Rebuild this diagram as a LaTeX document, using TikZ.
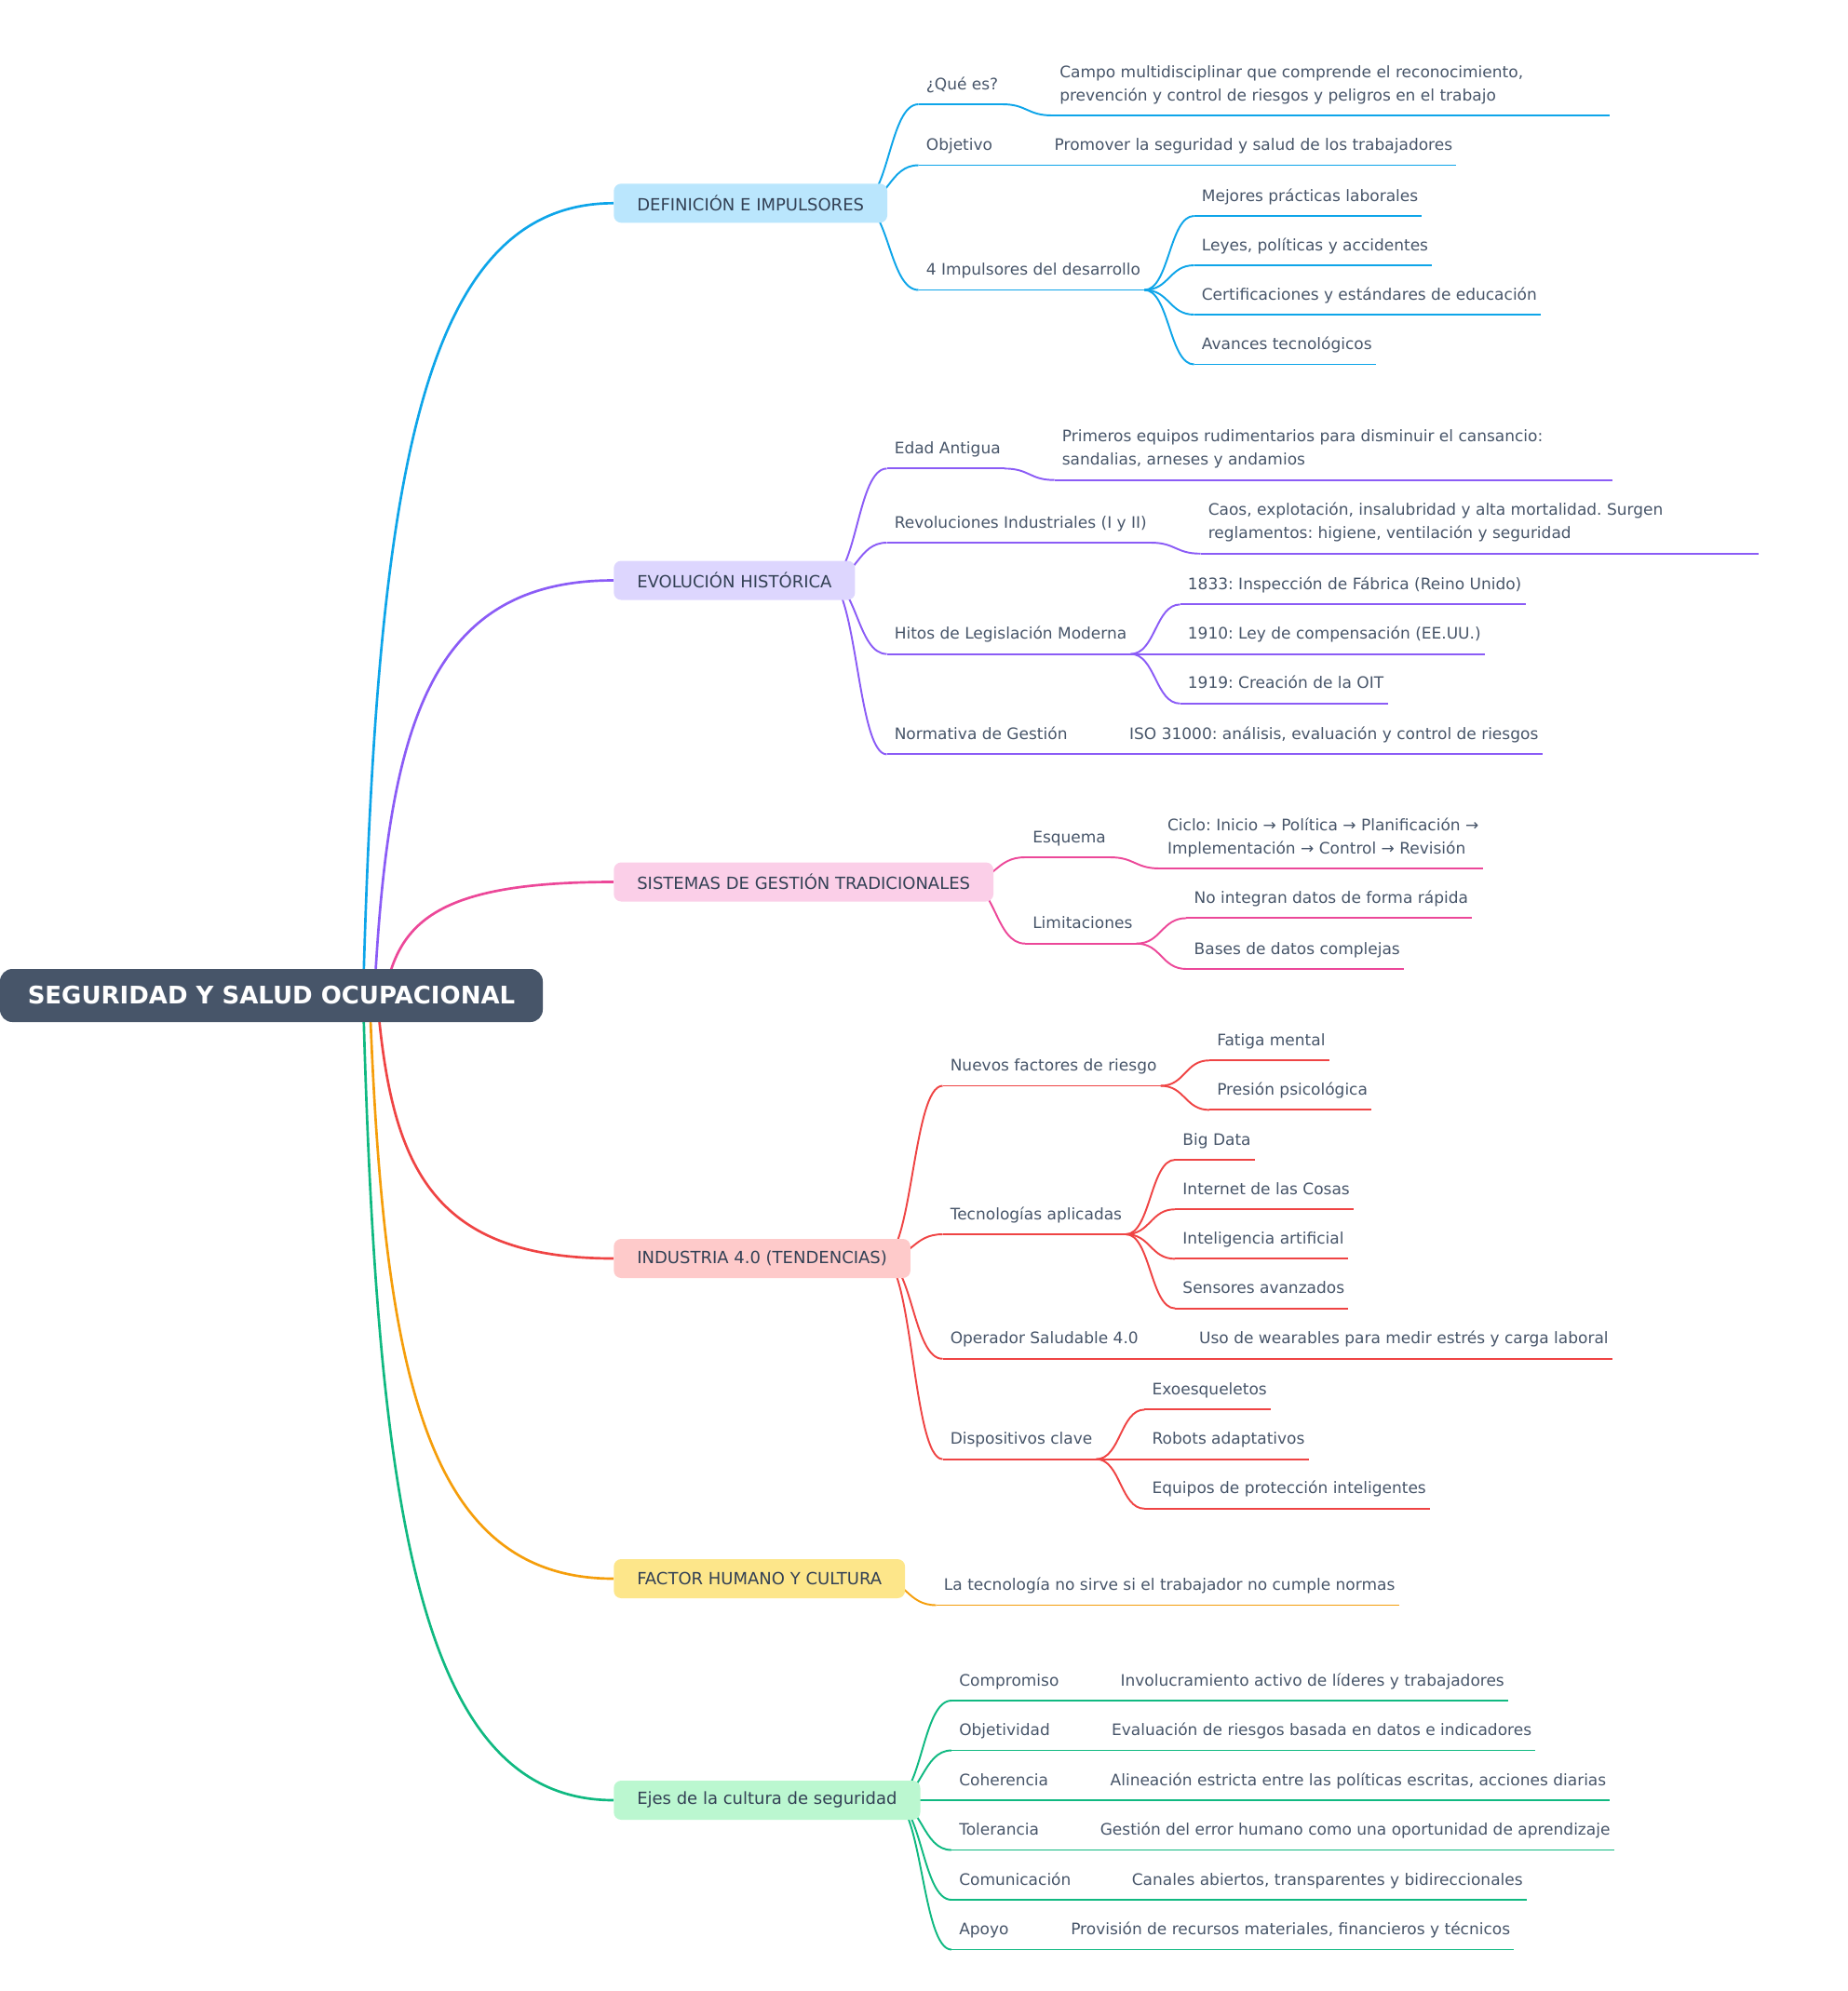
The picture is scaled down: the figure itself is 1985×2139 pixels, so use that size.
\documentclass[tikz,border=0pt]{standalone}
\usepackage{fontspec}
\setmainfont{DejaVu Sans}
\frenchspacing
\usetikzlibrary{calc}
\definecolor{rootc}{HTML}{475569}
\definecolor{txtc}{HTML}{475569}
\definecolor{boxtxt}{HTML}{334155}
\definecolor{c1}{HTML}{0EA5E9}\definecolor{f1}{HTML}{BAE6FD}
\definecolor{c2}{HTML}{8B5CF6}\definecolor{f2}{HTML}{DDD6FE}
\definecolor{c3}{HTML}{EC4899}\definecolor{f3}{HTML}{FBCFE8}
\definecolor{c4}{HTML}{EF4444}\definecolor{f4}{HTML}{FECACA}
\definecolor{c5}{HTML}{F59E0B}\definecolor{f5}{HTML}{FDE68A}
\definecolor{c6}{HTML}{10B981}\definecolor{f6}{HTML}{BBF7D0}
\pgfdeclarelayer{bg}
\pgfsetlayers{bg,main}
\tikzset{
  leaftxt/.style={font=\fontsize{12.75}{18.75}\selectfont, text=txtc, inner sep=0pt, anchor=base west},
  lvlbox/.style={fill=#1, rounded corners=6pt, inner xsep=18.75pt, inner ysep=0pt, minimum height=31.5pt,
     font=\fontsize{13.5}{16}\selectfont, text=boxtxt, anchor=west},
  rootbox/.style={fill=rootc, rounded corners=10pt, minimum width=437.25pt, minimum height=42.75pt,
     font=\bfseries\fontsize{19.5}{22}\selectfont, text=white, inner sep=0pt},
  ulsty/.style={draw=#1, line width=1.45pt},
  lksty/.style={draw=#1, line width=1.45pt},
  rksty/.style={draw=#1, line width=2pt},
}
% name, colour, left x, underline y, text
\newcommand\ulnode[5]{%
  \node[leaftxt] (#1) at ({#3+8},{#4-16}) {#5};
  \coordinate (#1-l) at (#3,#4);
  \coordinate (#1-r) at ($(#1.east |- #1-l)+(4,0)$);
  \draw[ulsty=#2] (#1-l) -- (#1-r);
}
% wrapped node of fixed width
\newcommand\wrapnode[6]{%
  \node[leaftxt] (#1) at ({#3+8},{#4-16}) {\begin{tabular}[b]{@{}l@{}}#5\\#6\end{tabular}};
  \coordinate (#1-l) at (#3,#4);
  \coordinate (#1-r) at ({#3+599},#4);
  \draw[ulsty=#2] (#1-l) -- (#1-r);
}
\newcommand\lnk[3]{\draw[lksty=#1] let \p1=(#2), \p2=(#3) in
  (\p1) .. controls ({(\x1+\x2)/2},\y1) and ({(\x1+\x2)/2},\y2) .. (\p2);}
\newcommand\rlnk[3]{\draw[rksty=#1] let \p1=(#2), \p2=(#3) in
  (\p1) .. controls ({\x1+11pt},{\y1+0.64*(\y2-\y1)}) and ({\x1+0.22*(\x2-\x1)},\y2) .. (\p2);}
\begin{document}
\begin{tikzpicture}[x=0.75pt,y=-0.75pt]
\useasboundingbox (0,0) rectangle (1985,2139);
% root and main branches
\node[rootbox] (root) at (291.5,1069.5) {SEGURIDAD Y SALUD OCUPACIONAL};
\node[lvlbox=f1] (b1) at (659,218.3) {DEFINICIÓN E IMPULSORES};
\node[lvlbox=f2] (b2) at (659,623.5) {EVOLUCIÓN HISTÓRICA};
\node[lvlbox=f3] (b3) at (659,947.5) {SISTEMAS DE GESTIÓN TRADICIONALES};
\node[lvlbox=f4] (b4) at (659,1352) {INDUSTRIA 4.0 (TENDENCIAS)};
\node[lvlbox=f5] (b5) at (659,1696) {FACTOR HUMANO Y CULTURA};
\node[lvlbox=f6] (b6) at (659,1934) {Ejes de la cultura de seguridad};
\foreach \i in {1,...,6} {\coordinate (b\i s) at ($(b\i.east)+(-30,0)$);}
\coordinate (s1) at (390,1070);
\coordinate (s2) at (402,1070);
\coordinate (s3) at (413,1070);
\coordinate (s4) at (405,1070);
\coordinate (s5) at (397,1070);
\coordinate (s6) at (390,1070);
% ---- branch 1
\ulnode{q1}{c1}{986.6}{112}{¿Qué es?}
\wrapnode{q1a}{c1}{1130}{124}{Campo multidisciplinar que comprende el reconocimiento,}{prevención y control de riesgos y peligros en el trabajo}
\ulnode{o1}{c1}{986.6}{177.5}{Objetivo}
\ulnode{o1a}{c1}{1124.4}{177.5}{Promover la seguridad y salud de los trabajadores}
\ulnode{i1}{c1}{986.6}{311.5}{4 Impulsores del desarrollo}
\ulnode{i1a}{c1}{1282.6}{232}{Mejores prácticas laborales}
\ulnode{i1b}{c1}{1282.6}{285}{Leyes, políticas y accidentes}
\ulnode{i1c}{c1}{1282.6}{338}{Certificaciones y estándares de educación}
\ulnode{i1d}{c1}{1282.6}{391.5}{Avances tecnológicos}
% ---- branch 2
\ulnode{e2}{c2}{952.5}{503.4}{Edad Antigua}
\wrapnode{e2a}{c2}{1132.6}{515.7}{Primeros equipos rudimentarios para disminuir el cansancio:}{sandalias, arneses y andamios}
\ulnode{r2}{c2}{952.5}{583}{Revoluciones Industriales (I y II)}
\wrapnode{r2a}{c2}{1289.5}{594.8}{Caos, explotación, insalubridad y alta mortalidad. Surgen}{reglamentos: higiene, ventilación y seguridad}
\ulnode{h2}{c2}{952.5}{702.6}{Hitos de Legislación Moderna}
\ulnode{h2a}{c2}{1267.6}{649.4}{1833: Inspección de Fábrica (Reino Unido)}
\ulnode{h2b}{c2}{1267.6}{702.6}{1910: Ley de compensación (EE.UU.)}
\ulnode{h2c}{c2}{1267.6}{755.8}{1919: Creación de la OIT}
\ulnode{n2}{c2}{952.5}{810.4}{Normativa de Gestión}
\ulnode{n2a}{c2}{1204.9}{810.4}{ISO 31000: análisis, evaluación y control de riesgos}
% ---- branch 3
\ulnode{pe}{c3}{1101}{921}{Esquema}
\ulnode{pea}{c3}{1245.8}{933}{\begin{tabular}[b]{@{}l@{}}Ciclo: Inicio → Política → Planificación →\\Implementación → Control → Revisión\end{tabular}}
\ulnode{pl}{c3}{1101}{1013.7}{Limitaciones}
\ulnode{pla}{c3}{1274.4}{986.4}{No integran datos de forma rápida}
\ulnode{plb}{c3}{1274.4}{1041}{Bases de datos complejas}
% ---- branch 4
\ulnode{rn}{c4}{1012.5}{1166.5}{Nuevos factores de riesgo}
\ulnode{rna}{c4}{1299}{1139.2}{Fatiga mental}
\ulnode{rnb}{c4}{1299}{1192.4}{Presión psicológica}
\ulnode{rt}{c4}{1012.5}{1326}{Tecnologías aplicadas}
\ulnode{rta}{c4}{1262.2}{1246}{Big Data}
\ulnode{rtb}{c4}{1262.2}{1299.2}{Internet de las Cosas}
\ulnode{rtc}{c4}{1262.2}{1352.4}{Inteligencia artificial}
\ulnode{rtd}{c4}{1262.2}{1405.6}{Sensores avanzados}
\ulnode{ro}{c4}{1012.5}{1459.8}{Operador Saludable 4.0}
\ulnode{roa}{c4}{1279.9}{1459.8}{Uso de wearables para medir estrés y carga laboral}
\ulnode{rd}{c4}{1012.5}{1567.6}{Dispositivos clave}
\ulnode{rda}{c4}{1229.4}{1514.4}{Exoesqueletos}
\ulnode{rdb}{c4}{1229.4}{1567.6}{Robots adaptativos}
\ulnode{rdc}{c4}{1229.4}{1620.8}{Equipos de protección inteligentes}
% ---- branch 5
\ulnode{ya}{c5}{1005.7}{1724.5}{La tecnología no sirve si el trabajador no cumple normas}
% ---- branch 6
\ulnode{gc}{c6}{1022}{1827}{Compromiso}
\ulnode{gca}{c6}{1195.3}{1827}{Involucramiento activo de líderes y trabajadores}
\ulnode{go}{c6}{1022}{1880.5}{Objetividad}
\ulnode{goa}{c6}{1185.8}{1880.5}{Evaluación de riesgos basada en datos e indicadores}
\ulnode{gh}{c6}{1022}{1934}{Coherencia}
\ulnode{gha}{c6}{1184.4}{1934}{Alineación estricta entre las políticas escritas, acciones diarias}
\ulnode{gt}{c6}{1022}{1987.5}{Tolerancia}
\ulnode{gta}{c6}{1173.5}{1987.5}{Gestión del error humano como una oportunidad de aprendizaje}
\ulnode{gm}{c6}{1022}{2041}{Comunicación}
\ulnode{gma}{c6}{1207.6}{2041}{Canales abiertos, transparentes y bidireccionales}
\ulnode{ga}{c6}{1022}{2094.5}{Apoyo}
\ulnode{gaa}{c6}{1142}{2094.5}{Provisión de recursos materiales, financieros y técnicos}
% ---- connectors
\begin{pgfonlayer}{bg}
\rlnk{c1}{s1}{b1.west}
\rlnk{c2}{s2}{b2.west}
\rlnk{c3}{s3}{b3.west}
\rlnk{c4}{s4}{b4.west}
\rlnk{c5}{s5}{b5.west}
\rlnk{c6}{s6}{b6.west}
\lnk{c1}{b1s}{q1-l}\lnk{c1}{b1s}{o1-l}\lnk{c1}{b1s}{i1-l}
\lnk{c1}{q1-r}{q1a-l}\lnk{c1}{o1-r}{o1a-l}
\lnk{c1}{i1-r}{i1a-l}\lnk{c1}{i1-r}{i1b-l}\lnk{c1}{i1-r}{i1c-l}\lnk{c1}{i1-r}{i1d-l}
\lnk{c2}{b2s}{e2-l}\lnk{c2}{b2s}{r2-l}\lnk{c2}{b2s}{h2-l}\lnk{c2}{b2s}{n2-l}
\lnk{c2}{e2-r}{e2a-l}\lnk{c2}{r2-r}{r2a-l}
\lnk{c2}{h2-r}{h2a-l}\lnk{c2}{h2-r}{h2b-l}\lnk{c2}{h2-r}{h2c-l}
\lnk{c2}{n2-r}{n2a-l}
\lnk{c3}{b3s}{pe-l}\lnk{c3}{b3s}{pl-l}
\lnk{c3}{pe-r}{pea-l}\lnk{c3}{pl-r}{pla-l}\lnk{c3}{pl-r}{plb-l}
\lnk{c4}{b4s}{rn-l}\lnk{c4}{b4s}{rt-l}\lnk{c4}{b4s}{ro-l}\lnk{c4}{b4s}{rd-l}
\lnk{c4}{rn-r}{rna-l}\lnk{c4}{rn-r}{rnb-l}
\lnk{c4}{rt-r}{rta-l}\lnk{c4}{rt-r}{rtb-l}\lnk{c4}{rt-r}{rtc-l}\lnk{c4}{rt-r}{rtd-l}
\lnk{c4}{ro-r}{roa-l}
\lnk{c4}{rd-r}{rda-l}\lnk{c4}{rd-r}{rdb-l}\lnk{c4}{rd-r}{rdc-l}
\lnk{c5}{b5s}{ya-l}
\lnk{c6}{b6s}{gc-l}\lnk{c6}{b6s}{go-l}\lnk{c6}{b6s}{gh-l}\lnk{c6}{b6s}{gt-l}\lnk{c6}{b6s}{gm-l}\lnk{c6}{b6s}{ga-l}
\lnk{c6}{gc-r}{gca-l}\lnk{c6}{go-r}{goa-l}\lnk{c6}{gh-r}{gha-l}\lnk{c6}{gt-r}{gta-l}\lnk{c6}{gm-r}{gma-l}\lnk{c6}{ga-r}{gaa-l}
\end{pgfonlayer}
\end{tikzpicture}
\end{document}
